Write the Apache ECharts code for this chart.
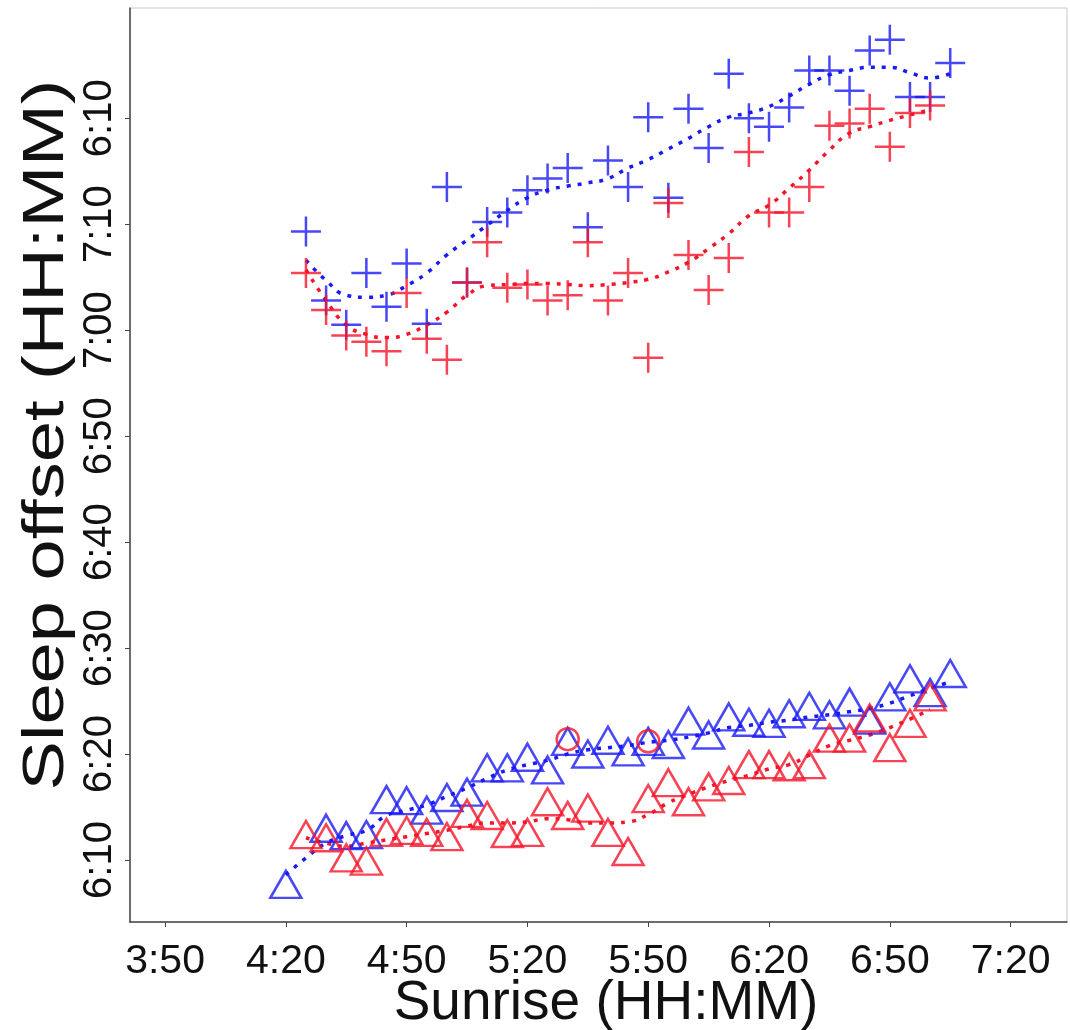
<!DOCTYPE html>
<html>
<head>
<meta charset="utf-8">
<script src="https://cdn.jsdelivr.net/npm/echarts@6/dist/echarts.min.js"></script>
<style>
html,body{margin:0;padding:0;background:#fff;}
#chart{width:1070px;height:1030px;}
</style>
</head>
<body>
<div id="chart"></div>
<script>
// Sunrise times (x), 5-minute steps
const xTimes = ['4:20','4:25','4:30','4:35','4:40','4:45','4:50','4:55','5:00','5:05','5:10','5:15','5:20','5:25','5:30','5:35','5:40','5:45','5:50','5:55','6:00','6:05','6:10','6:15','6:20','6:25','6:30','6:35','6:40','6:45','6:50','6:55','7:00','7:05'];

// x-axis tick labels
const xTickLabels = ['3:50','4:20','4:50','5:20','5:50','6:20','6:50','7:20'];
// y-axis ticks (minutes) and their printed labels (as in the figure)
const yTickMinutes = [370,380,390,400,410,420,430,440];
const yTickLabels = ['6:10','6:20','6:30','6:40','6:50','7:00','7:10','6:10'];

// Sleep offset values (minutes on the y scale), aligned with xTimes
const bluePlus = [null,429.3,422.8,420.5,425.4,422.2,426.3,420.6,433.5,424.5,430.2,431.1,433.2,434.3,435.3,429.7,436.0,433.5,440.1,432.5,440.9,437.2,444.2,440.0,439.2,441.0,444.5,444.5,442.6,446.4,447.4,442.0,442.0,445.2];
const redPlus = [null,425.4,421.9,419.5,418.9,418.0,423.5,419.2,417.2,424.5,428.3,424.0,424.3,422.8,423.3,428.3,422.8,425.4,417.4,432.0,427.1,423.8,426.8,436.8,431.1,431.1,433.5,439.3,439.5,440.9,437.3,440.5,441.2,null];
const blueTri = [367.7,null,373.0,372.3,372.4,375.7,375.6,374.7,375.9,376.4,378.7,378.7,379.7,378.5,381.2,380.0,381.3,380.2,381.2,380.9,383.1,381.8,383.5,383.0,382.9,383.8,384.5,383.7,384.9,383.2,385.4,387.1,385.8,387.6];
const redTri = [null,372.4,372.1,370.2,369.9,372.6,372.8,372.6,372.2,374.4,374.2,372.5,372.6,375.5,374.2,374.9,372.6,370.8,375.8,377.3,375.5,376.9,377.5,379.0,379.0,378.8,379.0,381.5,381.5,383.4,380.6,382.9,385.4,null];

// smoothed (dotted) fits
const blueFitUpper = [null,426.6,424.7,423.3,423.1,423.3,424.2,425.4,427.1,428.5,429.9,431.3,432.5,433.2,433.6,433.9,434.3,435.3,436.1,437.1,438.1,439.2,440.1,440.5,441.1,442.1,443.2,444.1,444.5,444.8,444.8,444.3,443.8,444.2];
const redFitUpper = [null,425.7,422.8,420.5,419.6,419.3,419.6,420.5,421.7,423.3,424.2,424.3,424.4,424.4,424.3,424.2,424.3,424.5,424.8,425.5,426.4,427.7,429.1,430.8,431.8,433.4,435.1,437.0,438.6,439.2,439.8,440.3,440.8,null];
const blueFitLower = [368.6,370.2,371.6,372.3,372.8,374.2,374.7,375.2,376.0,376.8,377.7,378.5,379.0,379.4,380.0,380.4,380.6,380.8,381.1,381.3,381.6,382.0,382.5,382.7,383.0,383.2,383.5,383.7,384.0,384.3,384.8,385.5,386.2,386.8];
const redFitLower = [null,372.1,371.6,371.3,371.6,371.9,372.2,372.5,372.8,373.2,373.5,373.5,373.6,373.9,373.8,373.5,373.5,373.6,374.3,375.4,376.2,376.9,377.5,378.0,378.6,379.0,379.9,380.8,381.3,381.8,382.5,383.3,384.2,null];

// circled points
const circleTimes = ['5:30','5:50'];
const circleVals = [381.4,381.2];

function toMin(s){ const p = s.split(':'); return (+p[0])*60 + (+p[1]); }
function fmt(m){ const h = Math.floor(m/60), mm = Math.round(m%60); return h + ':' + (mm<10?'0':'') + mm; }
function pairs(vals){ const out=[]; vals.forEach((v,i)=>{ if(v!=null) out.push([toMin(xTimes[i]), v]); }); return out; }

const BLUE = '#1a1af5';
const RED = '#f51428';
const FONT = 'Liberation Sans';
const plusPath = 'path://M15,0L15,30M0,15L30,15';

const chart = echarts.init(document.getElementById('chart'));
chart.setOption({
  backgroundColor: '#ffffff',
  animation: false,
  grid: { left: 130, right: 3, top: 8, bottom: 108, outerBoundsMode: 'none', containLabel: false, show: true, borderColor: '#c8c8c8', borderWidth: 1, backgroundColor: 'transparent' },
  xAxis: {
    type: 'value', min: 221.3, max: 454,
    axisLine: { show: true, onZero: false, lineStyle: { color: '#444', width: 1.5 } },
    axisTick: { show: true, length: 5, customValues: xTickLabels.map(toMin), lineStyle: { color: '#444' } },
    axisLabel: { customValues: xTickLabels.map(toMin), formatter: v => fmt(v), fontSize: 41, fontFamily: FONT, color: '#111', margin: 19 },
    splitLine: { show: false }
  },
  yAxis: {
    type: 'value', min: 364.15, max: 450.4,
    axisLine: { show: true, onZero: false, lineStyle: { color: '#444', width: 1.5 } },
    axisTick: { show: true, length: 5, customValues: yTickMinutes, lineStyle: { color: '#444' } },
    axisLabel: { customValues: yTickMinutes, rotate: 90, formatter: v => { const i = yTickMinutes.indexOf(Math.round(v)); return i>=0 ? yTickLabels[i] : ''; }, fontSize: 40, fontFamily: FONT, color: '#111', margin: 10 },
    splitLine: { show: false }
  },
  graphic: [{
    type: 'text', x: 47, y: 435, rotation: Math.PI/2, scaleX: 1.3,
    style: { text: 'Sleep offset (HH:MM)', fontSize: 57, fontFamily: FONT, fill: '#111', align: 'center', verticalAlign: 'middle' }
  }, {
    type: 'text', x: 606, y: 1004,
    style: { text: 'Sunrise (HH:MM)', fontSize: 55, fontFamily: FONT, fill: '#111', align: 'center', verticalAlign: 'middle' }
  }],
  series: [
    { type: 'line', data: pairs(blueFitUpper), smooth: true, symbol: 'none', lineStyle: { color: BLUE, width: 3.5, type: [4,7] }, z: 1 },
    { type: 'line', data: pairs(redFitUpper), smooth: true, symbol: 'none', lineStyle: { color: RED, width: 3.5, type: [4,7] }, z: 1 },
    { type: 'line', data: pairs(blueFitLower), smooth: true, symbol: 'none', lineStyle: { color: BLUE, width: 3.5, type: [4,7] }, z: 1 },
    { type: 'line', data: pairs(redFitLower), smooth: true, symbol: 'none', lineStyle: { color: RED, width: 3.5, type: [4,7] }, z: 1 },
    { type: 'scatter', data: pairs(bluePlus), symbol: plusPath, symbolSize: 30, itemStyle: { color: 'none', borderColor: BLUE, borderWidth: 2.5 }, z: 2 },
    { type: 'scatter', data: pairs(redPlus), symbol: plusPath, symbolSize: 30, itemStyle: { color: 'none', borderColor: RED, borderWidth: 2.5 }, z: 2 },
    { type: 'scatter', data: pairs(blueTri), symbol: 'triangle', symbolSize: [31,27], itemStyle: { color: 'rgba(255,255,255,0)', borderColor: BLUE, borderWidth: 2.5 }, z: 2 },
    { type: 'scatter', data: pairs(redTri), symbol: 'triangle', symbolSize: [31,27], itemStyle: { color: 'rgba(255,255,255,0)', borderColor: RED, borderWidth: 2.5 }, z: 2 },
    { type: 'scatter', data: circleTimes.map((t,i)=>[toMin(t), circleVals[i]]), symbol: 'circle', symbolSize: 22, itemStyle: { color: 'rgba(255,255,255,0)', borderColor: RED, borderWidth: 2.5 }, z: 3 }
  ]
});
</script>
</body>
</html>
